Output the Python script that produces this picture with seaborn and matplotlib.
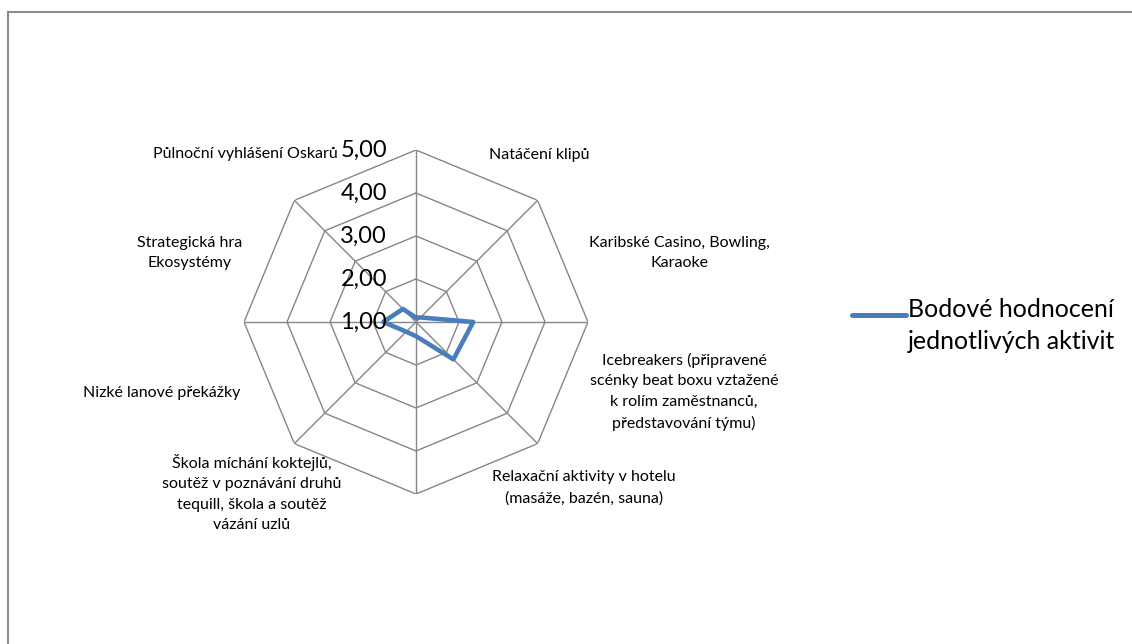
import numpy as np
import pandas as pd
import matplotlib.pyplot as plt
from matplotlib.patches import Rectangle
from matplotlib.lines import Line2D
import seaborn as sns

# Hodnoty
aktivity = [
    'Natáčení klipů',
    'Karibské Casino, Bowling,\nKaraoke',
    'Icebreakers (připravené\nscénky beat boxu vztažené\nk rolím zaměstnanců,\npředstavování týmu)',
    'Relaxační aktivity v hotelu\n(masáže, bazén, sauna)',
    'Škola míchání koktejlů,\nsoutěž v poznávání druhů\ntequill, škola a soutěž\nvázání uzlů',
    'Nizké lanové překážky',
    'Strategická hra\nEkosystémy',
    'Půlnoční vyhlášení Oskarů',
]
hodnoceni = [1.10, 1.15, 2.33, 2.23, 1.33, 1.32, 1.76, 1.43]
osa_hodnoty = [1, 2, 3, 4, 5]
osa_popisky = ['1,00', '2,00', '3,00', '4,00', '5,00']
serie = 'Bodové hodnocení\njednotlivých aktivit'

# umístění popisků kategorií (px, střed textu) - jako v Excelu
pozice_popisku = [(539, 155), (679, 253), (684, 392), (584, 488),
                  (252, 493), (162, 393), (190, 253), (245, 154)]

sns.set_theme(style='white')
plt.rcParams['font.family'] = ['Lato', 'DejaVu Sans']
plt.rcParams['text.color'] = 'black'

W, H = 1132, 644
fig = plt.figure(figsize=(W / 100, H / 100), dpi=100)
fig.patch.set_facecolor('white')

# rámeček grafu
fig.patches.append(Rectangle((8 / W, -0.1), 1.2, (H - 12) / H + 0.1,
                             transform=fig.transFigure, fill=False,
                             edgecolor='#8c8c8c', lw=1.5))

cx, cy, R = 416, 322, 172
ax = fig.add_axes([(cx - R) / W, (H - cy - R) / H, 2 * R / W, 2 * R / H],
                  projection='polar')
ax.set_theta_zero_location('N')
ax.set_theta_direction(-1)
ax.set_ylim(1, 5)
ax.set_xticks([])
ax.set_yticks([])
ax.grid(False)
ax.spines['polar'].set_visible(False)
ax.set_facecolor('none')

n = len(aktivity)
uhly = np.linspace(0, 2 * np.pi, n, endpoint=False)
uhly_z = np.append(uhly, uhly[0])

# osmiúhelníková mřížka
for r in osa_hodnoty[1:]:
    ax.plot(uhly_z, [r] * (n + 1), color='#868686', lw=1.0, zorder=1)
for t in uhly:
    ax.plot([t, t], [1, 5], color='#868686', lw=1.0, zorder=1)

df = pd.DataFrame({'uhel': uhly_z, 'hodnota': hodnoceni + hodnoceni[:1]})
sns.lineplot(data=df, x='uhel', y='hodnota', sort=False, estimator=None,
             color='#4a7ebb', lw=3.3, ax=ax, legend=False, zorder=3)
ax.set_xlabel('')
ax.set_ylabel('')
cara = ax.lines[-1]

# popisky osy hodnot
for v, s in zip(osa_hodnoty, osa_popisky):
    ax.annotate(s, xy=(0, v), xytext=(-29, 0), textcoords='offset pixels',
                ha='right', va='center', fontsize=17, color='black',
                annotation_clip=False)

# popisky kategorií
for s, (px, py) in zip(aktivity, pozice_popisku):
    fig.text(px / W, 1 - py / H, s, ha='center', va='center',
             multialignment='center', fontsize=11.5, linespacing=1.6,
             color='black')

# legenda (ručně, značka u prvního řádku jako v Excelu)
fig.add_artist(Line2D([852 / W, 906 / W], [1 - 315 / H, 1 - 315 / H],
                      transform=fig.transFigure, color=cara.get_color(),
                      lw=3.6, solid_capstyle='round'))
fig.text(908 / W, 1 - 298 / H, serie, ha='left', va='top', fontsize=18,
         linespacing=1.47, color='black')

fig.savefig('out.png', dpi=100)
